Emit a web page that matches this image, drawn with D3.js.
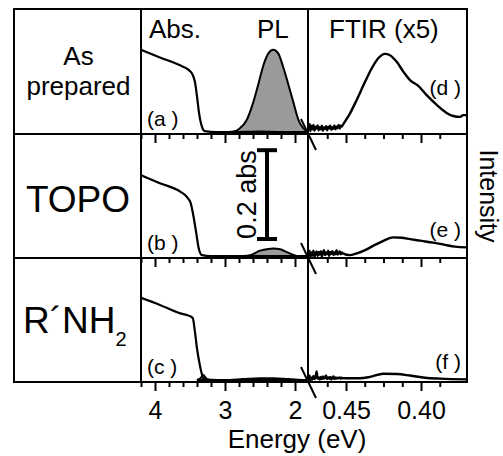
<!DOCTYPE html>
<html>
<head>
<meta charset="utf-8">
<script src="https://cdn.jsdelivr.net/npm/d3@7"></script>
<style>
  body { margin: 0; background: #fff; }
  svg { display: block; font-family: "Liberation Sans", Arial, sans-serif; }
</style>
</head>
<body>
<div id="chart"></div>
<script>
// row labels (left column)
var rowLabels = ["As prepared", "TOPO", "R´NH2"];
var panelTags = [["(a )", "(d )"], ["(b )", "(e )"], ["(c )", "(f )"]];

// tick values
var visMajor = [4, 3, 2];
var visMinor = [4.2, 3.8, 3.6, 3.4, 3.2, 2.8, 2.6, 2.4, 2.2];
var irMajor = [0.45, 0.40];
var irMinor = [0.4625, 0.4375, 0.425, 0.4125, 0.3875];

// absorbance (abs units) vs energy (eV)
var absE = [
  [4.2, 3.93, 3.60, 3.52, 3.46, 3.43, 3.40, 3.37, 3.33, 3.29, 3.12, 2.9, 2.5, 2.2, 1.82],
  [4.2, 3.93, 3.64, 3.55, 3.49, 3.45, 3.41, 3.38, 3.33, 3.2, 2.9, 2.5, 2.2, 1.82],
  [4.2, 3.93, 3.64, 3.52, 3.46, 3.43, 3.40, 3.36, 3.33, 3.30, 3.1, 2.8, 2.5, 2.2, 1.82]
];
var absA = [
  [0.185, 0.168, 0.147, 0.140, 0.128, 0.113, 0.080, 0.042, 0.012, 0.002, 0.0, 0.0, 0.001, 0.0, 0.0],
  [0.182, 0.164, 0.145, 0.134, 0.119, 0.089, 0.051, 0.021, 0.002, 0.0, 0.0, 0.0, 0.0, 0.0],
  [0.185, 0.169, 0.150, 0.145, 0.139, 0.109, 0.071, 0.034, 0.013, 0.002, 0.0, 0.0, 0.0, 0.0, 0.0]
];

// photoluminescence (same vertical units)
var plE = [
  [2.95, 2.88, 2.79, 2.69, 2.60, 2.52, 2.45, 2.38, 2.31, 2.24, 2.17, 2.10, 2.02, 1.95, 1.88, 1.815],
  [2.75, 2.64, 2.50, 2.38, 2.31, 2.21, 2.10, 1.98],
  [3.40, 3.35, 3.31, 3.27, 3.22, 3.0, 2.75, 2.5, 2.3, 2.1, 1.9]
];
var plI = [
  [0.0, 0.001, 0.008, 0.027, 0.065, 0.110, 0.151, 0.177, 0.185, 0.177, 0.147, 0.110, 0.065, 0.027, 0.008, 0.001],
  [0.0, 0.002, 0.012, 0.016, 0.017, 0.015, 0.0075, 0.0],
  [0.0, 0.004, 0.011, 0.004, 0.0, 0.0, 0.002, 0.004, 0.004, 0.002, 0.0]
];

// FTIR (x5) vs energy (eV), noisy start
var irE = [
  [0.4745, 0.4738, 0.4731, 0.4724, 0.4717, 0.4710, 0.4703, 0.4696, 0.4689, 0.4682, 0.4675, 0.4668, 0.4661, 0.4654,
   0.4647, 0.4640, 0.4633, 0.4626, 0.4619, 0.4612, 0.4605, 0.4598, 0.4591, 0.4584, 0.4577, 0.4570, 0.4563, 0.4556,
   0.4549, 0.4542, 0.4535, 0.4528, 0.4521,
   0.4473, 0.4429, 0.4373, 0.4329, 0.4285, 0.4240, 0.4207, 0.4162, 0.4118, 0.4073, 0.4018, 0.3962, 0.3895,
   0.3829, 0.3785, 0.3740, 0.3718, 0.3695],
  [0.4745, 0.4738, 0.4731, 0.4724, 0.4717, 0.4710, 0.4703, 0.4696, 0.4689, 0.4682, 0.4675, 0.4668, 0.4661, 0.4654,
   0.4647, 0.4640, 0.4633, 0.4626, 0.4619, 0.4612, 0.4605, 0.4598, 0.4591, 0.4584, 0.4577, 0.4570, 0.4563, 0.4556,
   0.4549, 0.4542, 0.4535, 0.4528, 0.4521,
   0.4473, 0.4418, 0.4362, 0.4307, 0.4251, 0.4185, 0.4129, 0.4073, 0.3995, 0.3918, 0.3840, 0.3773, 0.3695],
  [0.4745, 0.4738, 0.4731, 0.4724, 0.4717, 0.4710, 0.4703, 0.4696, 0.4689, 0.4682, 0.4675, 0.4668, 0.4661, 0.4654,
   0.4647, 0.4640, 0.4633, 0.4626, 0.4619, 0.4612, 0.4605, 0.4598, 0.4591, 0.4584, 0.4577, 0.4570, 0.4563, 0.4556,
   0.4549, 0.4542, 0.4535, 0.4528, 0.4521,
   0.4407, 0.4340, 0.4251, 0.4162, 0.4073, 0.3973, 0.3873, 0.3695]
];
var irI = [
  [0.020, 0.002, 0.014, 0.006, 0.016, 0.003, 0.012, 0.008, 0.015, 0.004, 0.011, 0.006, 0.014, 0.003,
   0.010, 0.007, 0.013, 0.004, 0.012, 0.008, 0.014, 0.005, 0.011, 0.007, 0.015, 0.006, 0.012, 0.009,
   0.016, 0.008, 0.014, 0.012, 0.016,
   0.042, 0.072, 0.113, 0.143, 0.166, 0.176, 0.173, 0.158, 0.136, 0.117, 0.104, 0.083, 0.061,
   0.043, 0.036, 0.034, 0.038, 0.038],
  [0.014, -0.003, 0.008, 0.001, 0.012, -0.002, 0.006, 0.010, 0.000, 0.009, 0.003, 0.011, -0.001, 0.007,
   0.013, 0.002, 0.008, 0.004, 0.012, 0.000, 0.009, 0.005, 0.011, 0.002, 0.008, 0.004, 0.013, 0.003,
   0.007, 0.010, 0.004, 0.008, 0.006,
   0.002, 0.007, 0.015, 0.025, 0.034, 0.042, 0.041, 0.038, 0.034, 0.030, 0.025, 0.021, 0.0195],
  [0.012, -0.002, 0.006, 0.001, 0.009, 0.002, 0.005, 0.019, 0.003, 0.006, 0.001, 0.007, 0.002, 0.008,
   0.003, 0.005, 0.010, 0.002, 0.006, 0.003, 0.007, 0.001, 0.005, 0.008, 0.002, 0.006, 0.003, 0.005,
   0.004, 0.006, 0.003, 0.005, 0.004,
   0.004, 0.007, 0.014, 0.0135, 0.010, 0.005, 0.003, 0.0015]
];

var scaleBarAbs = 0.2;

var left = 14, colLabel = 141, colMid = 308, colRight = 467;
var rowTop = [9, 134, 258], rowBot = [134, 258, 382];

var svg = d3.select("#chart").append("svg")
    .attr("width", 503)
    .attr("height", 456);

// x scales: visible panel and IR panel
var xVis = d3.scaleLinear().domain([4, 2]).range([155, 295]);
var xIR = d3.scaleLinear().domain([0.45, 0.40]).range([346, 421]);

var yRow = rowTop.map(function(t, i) {
  return d3.scaleLinear().domain([0, 0.27]).range([rowBot[i] - 2, rowBot[i] - 2 - 0.27 * 444]);
});

var clipVis = svg.append("clipPath").attr("id", "clipVis");
var clipIR = svg.append("clipPath").attr("id", "clipIR");
rowTop.forEach(function(t, i) {
  clipVis.append("rect").attr("x", colLabel).attr("y", t).attr("width", colMid - colLabel).attr("height", rowBot[i] - t);
  clipIR.append("rect").attr("x", colMid).attr("y", t).attr("width", colRight - colMid).attr("height", rowBot[i] - t);
});

rowTop.forEach(function(t, i) {
  var y = yRow[i];

  // PL filled
  var pl = plE[i].map(function(e, k) { return [xVis(e), y(plI[i][k])]; });
  svg.append("path")
    .attr("clip-path", "url(#clipVis)")
    .attr("d", d3.area().x(function(d) { return d[0]; }).y0(y(0)).y1(function(d) { return d[1]; })
      .curve(d3.curveMonotoneX)(pl))
    .attr("fill", "#9a9a9a")
    .attr("stroke", "#000")
    .attr("stroke-width", 2);

  // absorbance
  var ab = absE[i].map(function(e, k) { return [xVis(e), y(absA[i][k])]; });
  svg.append("path")
    .attr("clip-path", "url(#clipVis)")
    .attr("d", d3.line().curve(d3.curveMonotoneX)(ab))
    .attr("fill", "none")
    .attr("stroke", "#000")
    .attr("stroke-width", 2.2);

  // FTIR
  var ir = irE[i].map(function(e, k) { return [xIR(e), y(irI[i][k])]; });
  svg.append("path")
    .attr("clip-path", "url(#clipIR)")
    .attr("d", d3.line().curve(d3.curveMonotoneX)(ir))
    .attr("fill", "none")
    .attr("stroke", "#000")
    .attr("stroke-width", 2.4);

  // cells
  svg.append("rect").attr("x", left).attr("y", t).attr("width", colLabel - left).attr("height", rowBot[i] - t)
    .attr("fill", "none").attr("stroke", "#000").attr("stroke-width", 2);
  svg.append("rect").attr("x", colLabel).attr("y", t).attr("width", colMid - colLabel).attr("height", rowBot[i] - t)
    .attr("fill", "none").attr("stroke", "#000").attr("stroke-width", 2);
  svg.append("rect").attr("x", colMid).attr("y", t).attr("width", colRight - colMid).attr("height", rowBot[i] - t)
    .attr("fill", "none").attr("stroke", "#000").attr("stroke-width", 2);

  // axes along the bottom of every row, ticks pointing down
  var last = i === rowTop.length - 1;
  var g = svg.append("g").attr("transform", "translate(0," + rowBot[i] + ")");
  g.append("g").call(d3.axisBottom(xVis).tickValues(visMinor).tickSize(5).tickSizeOuter(0));
  g.append("g").call(d3.axisBottom(xIR).tickValues(irMinor).tickSize(5).tickSizeOuter(0));
  g.selectAll("text").remove();
  g.append("g").call(d3.axisBottom(xVis).tickValues(visMajor).tickSize(9).tickSizeOuter(0)
    .tickPadding(10).tickFormat(d3.format("d")));
  g.append("g").call(d3.axisBottom(xIR).tickValues(irMajor).tickSize(9).tickSizeOuter(0)
    .tickPadding(10).tickFormat(d3.format(".2f")));
  if (!last) g.selectAll("text").remove();
  g.selectAll(".domain").remove();
  g.selectAll("line").attr("stroke", "#000").attr("stroke-width", 2);
  g.selectAll("text").attr("font-size", 25).attr("fill", "#000")
    .attr("font-family", "Liberation Sans, Arial, sans-serif");

  // axis break mark
  svg.append("line")
    .attr("x1", colMid - 7).attr("y1", rowBot[i] - 15)
    .attr("x2", colMid + 8).attr("y2", rowBot[i] + 16)
    .attr("stroke", "#000").attr("stroke-width", 2);

  // panel tags
  svg.append("text").attr("x", 147).attr("y", rowBot[i] - 8).attr("font-size", 21).text(panelTags[i][0]);
  svg.append("text").attr("x", 461).attr("y", [95, 237, 369][i]).attr("text-anchor", "end")
    .attr("font-size", 21).text(panelTags[i][1]);
});

// row labels
var lab = svg.append("g");
lab.append("text").attr("x", 78.5).attr("y", 65).attr("text-anchor", "middle").attr("font-size", 26).text("As");
lab.append("text").attr("x", 78.5).attr("y", 95).attr("text-anchor", "middle").attr("font-size", 26).text("prepared");
lab.append("text").attr("x", 78).attr("y", 212).attr("text-anchor", "middle").attr("font-size", 37).text(rowLabels[1]);
var rn = lab.append("text").attr("x", 23).attr("y", 333).attr("font-size", 37);
rn.append("tspan").text("R´NH");
rn.append("tspan").attr("font-size", 20).attr("dy", 13).text("2");

// column headings
svg.append("text").attr("x", 149).attr("y", 38).attr("font-size", 26).text("Abs.");
svg.append("text").attr("x", 257).attr("y", 38).attr("font-size", 26).text("PL");
svg.append("text").attr("x", 329).attr("y", 38).attr("font-size", 26).text("FTIR (x5)");

// 0.2 abs scale bar
var yb = yRow[1];
var barX = 267, barY0 = 239;
var barY1 = barY0 - (yb(0) - yb(scaleBarAbs));
svg.append("line").attr("x1", barX).attr("x2", barX).attr("y1", barY0).attr("y2", barY1)
  .attr("stroke", "#000").attr("stroke-width", 4);
[barY0, barY1].forEach(function(v) {
  svg.append("line").attr("x1", barX - 10).attr("x2", barX + 10).attr("y1", v).attr("y2", v)
    .attr("stroke", "#000").attr("stroke-width", 4);
});
svg.append("text")
  .attr("transform", "translate(256," + ((barY0 + barY1) / 2) + ") rotate(-90)")
  .attr("text-anchor", "middle").attr("font-size", 27).text(scaleBarAbs + " abs");

// axis titles
svg.append("text")
  .attr("transform", "translate(480,196) rotate(90)")
  .attr("text-anchor", "middle").attr("font-size", 25).text("Intensity");
svg.append("text").attr("x", 297).attr("y", 448).attr("text-anchor", "middle").attr("font-size", 26).text("Energy (eV)");
</script>
</body>
</html>
